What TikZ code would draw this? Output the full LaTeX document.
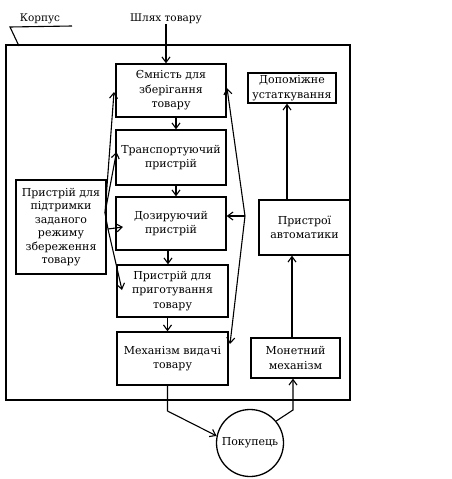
\documentclass[tikz,border=0pt]{standalone}
\usepackage{fontspec}
\setmainfont{DejaVu Serif}
\usetikzlibrary{arrows.meta}
\begin{document}
\begin{tikzpicture}[x=1pt,y=-1pt,
  box/.style={draw, line width=1.3pt, inner sep=1pt, align=center,
    font=\fontsize{11}{14.5}\selectfont},
  lbl/.style={inner sep=0pt, font=\fontsize{10.5}{12}\selectfont},
  arr/.style={line width=1.1pt, -{Straight Barb[length=5.5pt,width=8pt]}},
  ln/.style={line width=1.1pt}]
\useasboundingbox (0,0) rectangle (451,479);
% frame
\draw[line width=1.2pt] (6,45) rectangle (350,400);
% labels
\node[lbl] (korpus) at (40,19) {Корпус};
\node[lbl] (shlyakh) at (166,19) {Шлях товару};
\coordinate (k1) at (10,27);
\coordinate (k2) at (72,26);
\coordinate (k3) at (19,46);
\draw[ln] (k2) -- (k1) -- (k3);
% central column
\node[box, minimum width=110pt, minimum height=53pt] (b1) at (171,90.5) {Ємність для\\зберігання\\товару};
\node[box, minimum width=110pt, minimum height=55pt] (b2) at (171,157.5) {Транспортуючий\\пристрій};
\node[box, minimum width=110pt, minimum height=53pt] (b3) at (171,223.5) {Дозируючий\\пристрій};
\node[box, minimum width=111pt, minimum height=52pt] (b4) at (172.5,291) {Пристрій для\\приготування\\товару};
\node[box, minimum width=111pt, minimum height=53pt] (b5) at (172.5,358.5) {Механізм видачі\\товару};
% left box
\node[box, minimum width=90pt, minimum height=94pt, font=\fontsize{11}{13.5}\selectfont] (lb) at (61,227) {Пристрій для\\підтримки\\заданого\\режиму\\збереження\\товару};
% right column
\node[box, minimum width=88pt, minimum height=30pt] (dop) at (292,88) {Допоміжне\\устаткування};
\node[box, minimum width=91pt, minimum height=55pt] (avt) at (304.5,227.5) {Пристрої\\автоматики};
\node[box, minimum width=89pt, minimum height=40pt] (mon) at (295.5,358) {Монетний\\механізм};
% buyer
\node[draw, circle, line width=1.3pt, minimum size=67pt, inner sep=0pt,
  font=\fontsize{11}{14}\selectfont] (pk) at (250,443) {Покупець};
% central flow
\draw[arr] (shlyakh.south) -- (shlyakh.south |- b1.north);
\draw[arr] ([xshift=5pt]b1.south) -- ([xshift=5pt]b2.north);
\draw[arr] ([xshift=5pt]b2.south) -- ([xshift=5pt]b3.north);
\draw[arr] ([xshift=-3pt]b3.south) -- ([xshift=-3pt]b3.south |- b4.north);
\draw[arr] ([xshift=-5pt]b4.south) -- ([xshift=-5pt]b5.north);
\coordinate (o1) at (167.5,411);
\draw[arr] ([xshift=-5pt]b5.south) -- (o1) -- (pk.168);
% buyer to coin mechanism
\coordinate (m1) at (293,410);
\draw[arr] (pk.40) -- (m1) -- (m1 |- mon.south);
\draw[arr] ([xshift=-3.5pt]mon.north) -- ([xshift=-3.5pt]mon.north |- avt.south);
\draw[arr] ([xshift=-17.5pt]avt.north) -- ([xshift=-17.5pt]avt.north |- dop.south);
% right distribution
\coordinate (R) at (245,216);
\coordinate (r1) at (227,88);
\coordinate (r2) at (230,344);
\draw[arr] (R) -- (r1);
\draw[arr] (R) -- (r2);
\draw[arr] (R) -- (R -| b3.east);
% left distribution
\coordinate (C) at (105,213);
\coordinate (c1) at (114,92);
\coordinate (c2) at (116.5,152);
\coordinate (L2) at (108,229);
\coordinate (c3) at (123,227);
\coordinate (c4) at (122,290);
\draw[arr] (C) -- (c1);
\draw[arr] (C) -- (c2);
\draw[ln] (C) -- (L2);
\draw[arr] (L2) -- (c3);
\draw[arr] (L2) -- (c4);
\end{tikzpicture}
\end{document}
